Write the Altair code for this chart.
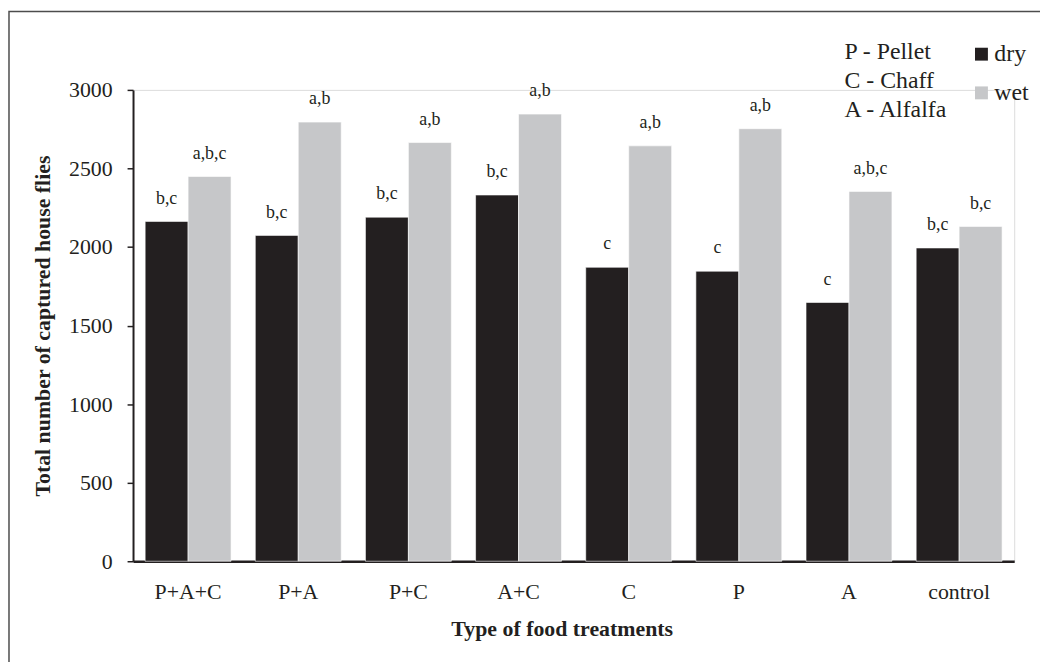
import altair as alt
import pandas as pd

categories = ["P+A+C", "P+A", "P+C", "A+C", "C", "P", "A", "control"]
dry = [2163, 2074, 2190, 2331, 1871, 1846, 1647, 1994]
wet = [2449, 2795, 2665, 2846, 2644, 2753, 2354, 2131]
dry_sig = ["b,c", "b,c", "b,c", "b,c", "c", "c", "c", "b,c"]
wet_sig = ["a,b,c", "a,b", "a,b", "a,b", "a,b", "a,b", "a,b,c", "b,c"]
groups = ["dry", "wet"]
key_lines = ["P - Pellet", "C - Chaff", "A - Alfalfa"]

rows = []
for i, c in enumerate(categories):
    rows.append({"treatment": c, "state": "dry", "count": dry[i], "sig": dry_sig[i]})
    rows.append({"treatment": c, "state": "wet", "count": wet[i], "sig": wet_sig[i]})
df = pd.DataFrame(rows)

FONT = "Liberation Serif"
INK = "#231f20"

x_enc = alt.X(
    "treatment:N",
    sort=categories,
    scale=alt.Scale(paddingInner=0.22, paddingOuter=0.11),
    axis=alt.Axis(
        title="Type of food treatments",
        labelAngle=0,
        ticks=False,
        tickSize=0,
        labelPadding=21,
        labelFontSize=22,
        labelFont=FONT,
        labelColor=INK,
        domainColor=INK,
        domainWidth=2.5,
        titleFont=FONT,
        titleFontSize=22,
        titleFontWeight="bold",
        titleColor=INK,
        titlePadding=16,
        titleX=432,
    ),
)
y_enc = alt.Y(
    "count:Q",
    scale=alt.Scale(domain=[0, 3000], nice=False),
    axis=alt.Axis(
        title="Total number of captured house flies",
        values=[0, 500, 1000, 1500, 2000, 2500, 3000],
        format="d",
        grid=False,
        tickSize=6,
        tickWidth=1.5,
        tickColor=INK,
        labelPadding=15,
        labelFontSize=22,
        labelFont=FONT,
        labelColor=INK,
        domainColor=INK,
        domainWidth=2,
        titleFont=FONT,
        titleFontSize=22,
        titleFontWeight="bold",
        titleColor=INK,
        titlePadding=14,
    ),
)

bars = alt.Chart(df).mark_bar(stroke="white", strokeWidth=0.6).encode(
    x=x_enc,
    xOffset=alt.XOffset("state:N", sort=groups, scale=alt.Scale(paddingInner=0, paddingOuter=0)),
    y=y_enc,
    color=alt.Color(
        "state:N",
        sort=groups,
        scale=alt.Scale(domain=groups, range=[INK, "#c6c7c9"]),
        legend=alt.Legend(
            title=None,
            orient="none",
            legendX=843,
            legendY=-48,
            symbolType="square",
            symbolSize=169,
            symbolStrokeWidth=0,
            labelFont=FONT,
            labelFontSize=24,
            labelColor=INK,
            labelOffset=1,
            rowPadding=15,
            padding=0,
        ),
    ),
)

labels = alt.Chart(df).mark_text(
    font=FONT, fontSize=18, color=INK, baseline="alphabetic", dy=-18
).encode(
    x=alt.X("treatment:N", sort=categories),
    xOffset=alt.XOffset("state:N", sort=groups),
    y=alt.Y("count:Q"),
    text="sig:N",
)

key = alt.Chart(pd.DataFrame({"t": [key_lines]})).mark_text(
    font=FONT, fontSize=24, color=INK, align="left", baseline="alphabetic", lineHeight=29
).encode(x=alt.value(717), y=alt.value(-31), text="t")

frame = alt.Chart(pd.DataFrame({"f": [0]})).mark_rect(
    fill="transparent", stroke="#4d4d4d", strokeWidth=1.5
).encode(x=alt.value(-125), x2=alt.value(1200), y=alt.value(-79), y2=alt.value(900))

chart = alt.layer(frame, bars, labels, key).properties(
    width=888,
    height=475,
    autosize=alt.AutoSizeParams(type="none"),
    padding={"left": 126, "top": 80, "right": 26, "bottom": 99},
).configure_view(stroke=None).configure(background="white")

chart.save("out.html", embed_options={"renderer": "svg", "actions": False})
